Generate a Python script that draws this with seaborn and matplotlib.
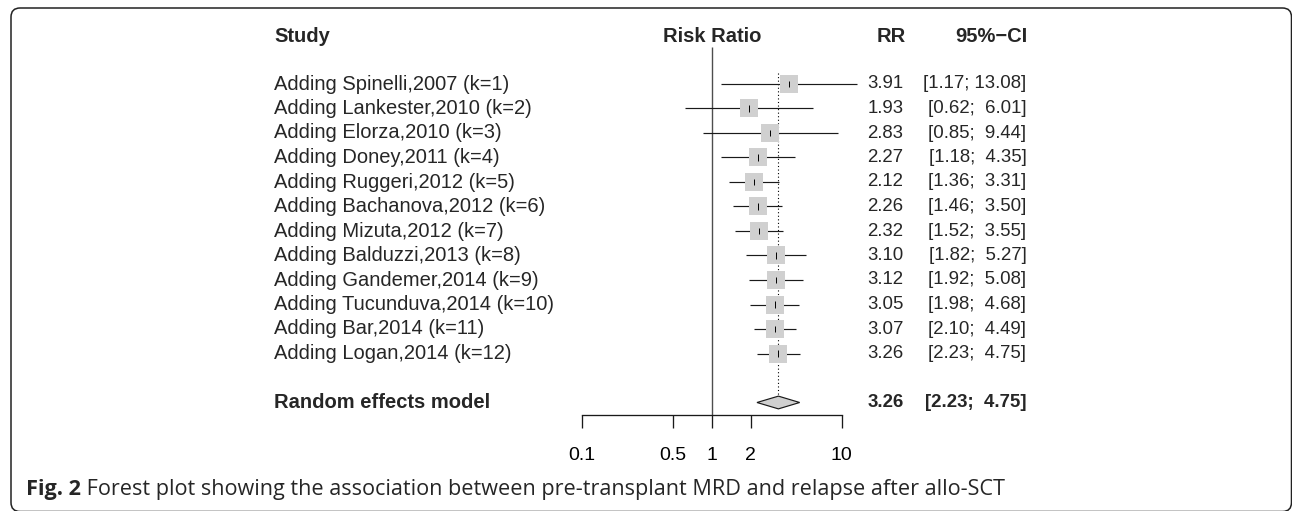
import numpy as np
import pandas as pd
import matplotlib
matplotlib.use("Agg")
import matplotlib.pyplot as plt
import matplotlib.transforms as mtransforms
from matplotlib.patches import Polygon, FancyBboxPatch
import seaborn as sns

# ---------------- data ----------------
studies = ["Adding Spinelli,2007 (k=1)", "Adding Lankester,2010 (k=2)",
           "Adding Elorza,2010 (k=3)", "Adding Doney,2011 (k=4)",
           "Adding Ruggeri,2012 (k=5)", "Adding Bachanova,2012 (k=6)",
           "Adding Mizuta,2012 (k=7)", "Adding Balduzzi,2013 (k=8)",
           "Adding Gandemer,2014 (k=9)", "Adding Tucunduva,2014 (k=10)",
           "Adding Bar,2014 (k=11)", "Adding Logan,2014 (k=12)"]
rr = [3.91, 1.93, 2.83, 2.27, 2.12, 2.26, 2.32, 3.10, 3.12, 3.05, 3.07, 3.26]
ci_lo = [1.17, 0.62, 0.85, 1.18, 1.36, 1.46, 1.52, 1.82, 1.92, 1.98, 2.10, 2.23]
ci_hi = [13.08, 6.01, 9.44, 4.35, 3.31, 3.50, 3.55, 5.27, 5.08, 4.68, 4.49, 4.75]
pooled_rr, pooled_lo, pooled_hi = 3.26, 2.23, 4.75
pooled_label = "Random effects model"
tick_values = [0.1, 0.5, 1, 2, 10]
tick_labels = ["0.1", "0.5", "1", "2", "10"]
caption_bold = "Fig. 2"
caption_text = " Forest plot showing the association between pre-transplant MRD and relapse after allo-SCT"

# ---------------- layout ----------------
W, H = 1292, 511
DPI = 100
x_one = 711.7      # pixel of RR = 1
px_dec = 130.0     # pixels per decade
y_row0 = 84.0      # pixel of first row
row_h = 24.5       # pixels per row

sns.set_style("white")
plt.rcParams["font.family"] = ["Liberation Sans", "DejaVu Sans"]
FS_NUM = 13.4
FS_TXT = 14.5

fig = plt.figure(figsize=(W / DPI, H / DPI), dpi=DPI)
ax = fig.add_axes([0, 0, 1, 1])
ax.set_xscale("log")
ax.set_xlim(10 ** ((0 - x_one) / px_dec), 10 ** ((W - x_one) / px_dec))
ax.set_ylim((H - y_row0) / row_h, (0 - y_row0) / row_h)
ax.set_facecolor("none")

n = len(studies)
df = pd.DataFrame({"study": studies, "rr": rr, "lo": ci_lo, "hi": ci_hi,
                   "row": np.arange(n, dtype=float)})
pooled_row = n + 1
axis_row = (415 - y_row0) / row_h

# reference lines
ax.vlines(1, (47 - y_row0) / row_h, axis_row, color="#4d4d4d", lw=1.0, zorder=1)
ax.vlines(pooled_rr, (73 - y_row0) / row_h, pooled_row - 0.26, color="black",
          lw=0.8, linestyles=(0, (1, 2.2)), zorder=1)

# CI lines
ax.hlines(df["row"], df["lo"], df["hi"], color="#1a1a1a", lw=0.85, zorder=2)

# squares
sns.scatterplot(data=df, x="rr", y="row", marker="s", s=172, color="#d0d0d0",
                linewidth=0, legend=False, ax=ax, zorder=3)
# point ticks
ax.vlines(df["rr"], df["row"] - 0.13, df["row"] + 0.13, color="black", lw=0.7, zorder=4)

# diamond
dh = 0.26
diamond = Polygon([(pooled_lo, pooled_row), (pooled_rr, pooled_row - dh),
                   (pooled_hi, pooled_row), (pooled_rr, pooled_row + dh)],
                  closed=True, facecolor="#d0d0d0", edgecolor="#1a1a1a", lw=0.85, zorder=3)
ax.add_patch(diamond)

# axis
for s in ["top", "left", "right"]:
    ax.spines[s].set_visible(False)
ax.spines["bottom"].set_position(("data", axis_row))
ax.spines["bottom"].set_bounds(tick_values[0], tick_values[-1])
ax.spines["bottom"].set_color("#1a1a1a")
ax.spines["bottom"].set_linewidth(0.95)
ax.set_xticks(tick_values)
ax.set_xticklabels(tick_labels, fontsize=FS_NUM + 0.6)
ax.xaxis.set_minor_locator(matplotlib.ticker.NullLocator())
ax.tick_params(axis="x", direction="out", length=9.4, width=0.95, pad=13.3,
               colors="#1a1a1a", labelcolor="black", bottom=True)
ax.set_yticks([])
ax.set_xlabel("")
ax.set_ylabel("")

# text columns
tr = mtransforms.blended_transform_factory(fig.transFigure, ax.transData)
x_study = 274 / W
x_rr = 903.5 / W
x_ci = 1026.5 / W
x_head_rr = 905.5 / W
x_head_ci = 1028 / W
head_row = -1.95

ax.text(x_study, head_row, "Study", transform=tr, ha="left", va="center",
        fontsize=FS_TXT, fontweight="bold")
ax.text(x_one / W, head_row, "Risk Ratio", transform=tr, ha="center", va="center",
        fontsize=FS_TXT, fontweight="bold")
ax.text(x_head_rr, head_row, "RR", transform=tr, ha="right", va="center",
        fontsize=FS_TXT, fontweight="bold")
ax.text(x_head_ci, head_row, "95%\u2212CI", transform=tr, ha="right", va="center",
        fontsize=FS_TXT, fontweight="bold")

for _, r in df.iterrows():
    ax.text(x_study, r["row"], r["study"], transform=tr, ha="left", va="center", fontsize=FS_TXT)
    ax.text(x_rr, r["row"], f"{r['rr']:.2f}", transform=tr, ha="right", va="center", fontsize=FS_NUM)
    ax.text(x_ci, r["row"], f"[{r['lo']:.2f}; {r['hi']:5.2f}]", transform=tr,
            ha="right", va="center", fontsize=FS_NUM)

ax.text(x_study, pooled_row, pooled_label, transform=tr, ha="left", va="center",
        fontsize=FS_TXT, fontweight="bold")
ax.text(x_rr, pooled_row, f"{pooled_rr:.2f}", transform=tr, ha="right", va="center",
        fontsize=FS_NUM, fontweight="bold")
ax.text(x_ci, pooled_row, f"[{pooled_lo:.2f}; {pooled_hi:5.2f}]", transform=tr,
        ha="right", va="center", fontsize=FS_NUM, fontweight="bold")

# frame
frame = FancyBboxPatch((11 / W, 1 - 511.5 / H), (1291.5 - 11) / W, (511.5 - 8) / H,
                       boxstyle="round,pad=0,rounding_size=0.007",
                       transform=fig.transFigure, facecolor="none",
                       edgecolor="#222222", lw=1.1, mutation_aspect=W / H,
                       clip_on=False)
fig.patches.append(frame)

# caption
cap_y = 1 - 489 / H
CAP_FS = 15.6
t1 = fig.text(26 / W, cap_y, caption_bold, ha="left", va="center", fontsize=CAP_FS,
              fontweight="bold", family=["Open Sans", "DejaVu Sans"])
fig.canvas.draw()
bb = t1.get_window_extent()
fig.text(bb.x1 / W, cap_y, caption_text, ha="left", va="center", fontsize=CAP_FS,
         family=["Open Sans", "DejaVu Sans"])

fig.savefig("out.png", dpi=DPI)
